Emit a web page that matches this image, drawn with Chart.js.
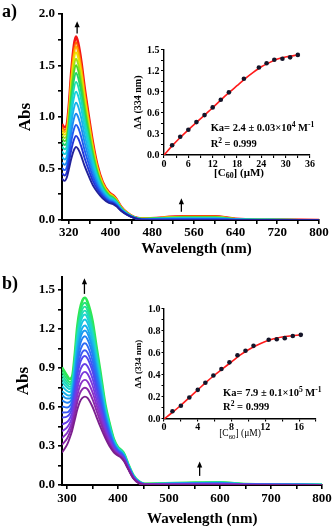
<!DOCTYPE html>
<html>
<head>
<meta charset="utf-8">
<script src="https://cdn.jsdelivr.net/npm/chart.js@4.4.1/dist/chart.umd.min.js"></script>
<style>
  html, body { margin: 0; padding: 0; background: #fff; }
  #wrap { position: relative; width: 333px; height: 532px; overflow: hidden; }
  canvas { position: absolute; }
  .lbl { position: absolute; font: bold 18px/18px 'Liberation Serif', serif; color: #000; }
</style>
</head>
<body>
<div id="wrap">
  <canvas id="mainA" width="333" height="262" style="left:0;top:0"></canvas>
  <canvas id="insetA" width="225" height="155" style="left:100px;top:30px"></canvas>
  <canvas id="mainB" width="333" height="270" style="left:0;top:262px"></canvas>
  <canvas id="insetB" width="225" height="155" style="left:100px;top:290px"></canvas>
  <div class="lbl" style="left:2px;top:2px">a)</div>
  <div class="lbl" style="left:2px;top:274px">b)</div>
</div>
<script>
// ---- panel a: spectra (wavelength nm / absorbance), lowest curve first
const W_A = [307, 312, 316, 320, 325, 330, 334, 338, 344, 350, 358, 366, 375, 385, 397, 405, 412, 420, 432, 445, 460, 540, 600, 640, 700, 800];
const SPECTRA_A = [
  [.40,.38,.41,.49,.60,.68,.71,.69,.62,.53,.43,.34,.27,.21,.165,.155,.13,.09,.05,.02,.003,0,0,0,0,0],
  [.453,.432,.461,.551,.685,.782,.817,.793,.712,.607,.489,.382,.296,.226,.176,.164,.137,.094,.052,.021,.004,.004,.004,.001,0,0],
  [.506,.484,.512,.612,.77,.884,.924,.896,.804,.684,.548,.424,.322,.242,.186,.172,.144,.098,.054,.022,.005,.007,.007,.002,.001,0],
  [.559,.536,.563,.673,.855,.986,1.031,.999,.896,.761,.607,.466,.348,.258,.197,.181,.151,.102,.056,.023,.007,.011,.011,.004,.001,0],
  [.612,.588,.614,.734,.94,1.088,1.138,1.102,.988,.838,.666,.508,.374,.274,.207,.189,.158,.106,.058,.024,.008,.014,.014,.005,.002,0],
  [.665,.64,.665,.795,1.025,1.19,1.245,1.205,1.08,.915,.725,.55,.40,.29,.218,.198,.165,.11,.06,.025,.009,.018,.018,.006,.002,0],
  [.713,.687,.711,.85,1.102,1.282,1.341,1.298,1.163,.984,.778,.588,.423,.304,.227,.205,.171,.114,.062,.026,.01,.021,.021,.007,.002,0],
  [.755,.728,.752,.899,1.17,1.363,1.427,1.38,1.236,1.046,.825,.621,.444,.317,.235,.212,.177,.117,.063,.027,.011,.023,.023,.008,.003,0],
  [.792,.765,.787,.941,1.229,1.435,1.502,1.452,1.301,1.1,.867,.651,.462,.328,.243,.218,.182,.12,.065,.027,.012,.026,.026,.009,.003,0],
  [.824,.796,.818,.978,1.28,1.496,1.566,1.514,1.356,1.146,.902,.676,.478,.338,.249,.223,.186,.122,.066,.028,.013,.028,.028,.01,.003,0],
  [.856,.827,.849,1.015,1.331,1.557,1.63,1.576,1.411,1.192,.937,.701,.494,.348,.255,.228,.19,.124,.067,.029,.013,.03,.03,.01,.003,0],
  [.882,.853,.874,1.045,1.374,1.608,1.684,1.627,1.457,1.231,.967,.722,.507,.356,.261,.232,.194,.126,.068,.029,.014,.032,.032,.011,.004,0],
  [.904,.874,.895,1.07,1.408,1.649,1.727,1.669,1.494,1.262,.991,.739,.517,.362,.265,.236,.197,.128,.069,.03,.014,.033,.033,.011,.004,0],
  [.93,.90,.92,1.10,1.45,1.70,1.78,1.72,1.54,1.30,1.02,.76,.53,.37,.27,.24,.20,.13,.07,.03,.015,.035,.035,.012,.004,0]
];
const COLORS_A = ['#22229a','#2036d8','#1f5cf0','#1c8cf2','#18b2ec','#16cede','#18dcb0','#22d468','#52d828','#a2e014','#ece400','#ffae00','#ff6400','#f41414'];

// ---- panel b
const W_B = [290, 300, 305, 310, 315, 320, 325, 330, 335, 340, 350, 357, 365, 375, 383, 392, 400, 406, 412, 420, 430, 440, 452, 550, 600, 650, 800];
const SPECTRA_B = [
  [.25,.31,.36,.42,.50,.58,.64,.67,.68,.67,.60,.53,.45,.36,.30,.25,.225,.21,.18,.12,.05,.015,.002,0,0,0,0],
  [.309,.358,.401,.457,.545,.638,.704,.738,.748,.737,.659,.58,.489,.383,.316,.259,.231,.215,.185,.124,.052,.016,.003,.002,.002,.001,0],
  [.361,.40,.437,.491,.585,.689,.761,.798,.809,.796,.712,.624,.523,.404,.331,.267,.236,.22,.19,.127,.054,.018,.003,.003,.003,.001,0],
  [.414,.443,.474,.524,.625,.74,.818,.858,.87,.855,.765,.668,.558,.425,.345,.275,.241,.225,.195,.13,.056,.019,.004,.005,.005,.002,.001],
  [.466,.485,.51,.557,.665,.791,.874,.918,.931,.914,.818,.712,.592,.446,.359,.283,.246,.23,.20,.133,.058,.02,.005,.006,.007,.003,.001],
  [.519,.527,.547,.59,.705,.842,.931,.978,.992,.973,.871,.756,.626,.467,.374,.291,.252,.235,.205,.136,.06,.021,.005,.007,.008,.003,.001],
  [.558,.559,.574,.615,.735,.881,.974,1.023,1.037,1.018,.91,.789,.652,.482,.385,.297,.256,.238,.208,.139,.062,.022,.006,.008,.009,.004,.001],
  [.604,.596,.606,.644,.77,.926,1.023,1.075,1.09,1.07,.956,.827,.682,.50,.397,.304,.26,.242,.212,.142,.064,.023,.006,.01,.011,.004,.001],
  [.65,.633,.638,.673,.805,.97,1.073,1.128,1.144,1.121,1.003,.866,.712,.519,.41,.311,.265,.247,.217,.144,.065,.024,.007,.011,.012,.005,.001],
  [.689,.665,.665,.698,.835,1.009,1.116,1.173,1.189,1.166,1.042,.899,.738,.534,.421,.317,.269,.25,.22,.147,.067,.025,.007,.012,.013,.005,.001],
  [.722,.692,.688,.719,.86,1.041,1.151,1.21,1.227,1.203,1.075,.926,.76,.547,.43,.322,.272,.253,.223,.149,.068,.026,.008,.013,.014,.006,.001],
  [.761,.723,.715,.744,.89,1.079,1.194,1.255,1.273,1.247,1.115,.959,.785,.563,.44,.328,.276,.257,.227,.151,.07,.027,.008,.014,.016,.006,.002],
  [.794,.75,.738,.764,.915,1.111,1.229,1.293,1.311,1.284,1.148,.987,.807,.576,.449,.333,.279,.26,.23,.153,.071,.027,.009,.015,.017,.007,.002],
  [.82,.771,.756,.781,.935,1.137,1.258,1.323,1.341,1.314,1.174,1.009,.824,.586,.457,.337,.282,.262,.232,.155,.072,.028,.009,.016,.017,.007,.002],
  [.846,.792,.774,.798,.955,1.162,1.286,1.353,1.372,1.343,1.201,1.031,.841,.597,.464,.341,.284,.265,.235,.156,.073,.029,.009,.016,.018,.007,.002],
  [.872,.814,.792,.814,.975,1.188,1.315,1.383,1.402,1.373,1.227,1.053,.859,.607,.471,.345,.287,.267,.237,.158,.074,.029,.01,.017,.019,.008,.002],
  [.905,.84,.815,.835,1.0,1.22,1.35,1.42,1.44,1.41,1.26,1.08,.88,.62,.48,.35,.29,.27,.24,.16,.075,.03,.01,.018,.02,.008,.002]
];
const COLORS_B = ['#7c1f8e','#8a28aa','#8a30c8','#7a38dc','#6640e8','#4f48f0','#3c58f4','#2c6cf6','#2080f4','#1a98f0','#18b0ec','#18c4e0','#1cd4d0','#20dcb8','#22e098','#26e478','#2ee852'];

// ---- inset titrations: [C60] (uM) vs dA at 334 nm
const C_A = [2, 4, 6, 8, 10, 12, 14, 16, 19.7, 23.4, 25.3, 27.2, 29.2, 31.1, 33];
const DA_A = [0.14, 0.26, 0.36, 0.47, 0.57, 0.68, 0.79, 0.895, 1.09, 1.25, 1.31, 1.36, 1.375, 1.395, 1.43];
const FIT_C_A = [0, 2, 4, 6, 8, 10, 12, 14, 16, 18, 20, 22, 24, 26, 28, 30, 32, 33];
const FIT_DA_A = [0, 0.13, 0.25, 0.36, 0.465, 0.57, 0.675, 0.785, 0.89, 0.99, 1.09, 1.18, 1.26, 1.32, 1.37, 1.40, 1.42, 1.43];

const C_B = [1, 2, 3, 4, 4.9, 5.85, 6.8, 7.75, 8.7, 9.65, 10.6, 12.4, 13.35, 14.3, 15.25, 16.2];
const DA_B = [0.07, 0.12, 0.195, 0.265, 0.33, 0.395, 0.455, 0.515, 0.58, 0.62, 0.665, 0.72, 0.725, 0.735, 0.755, 0.765];
const FIT_C_B = [0, 1, 2, 3, 4, 5, 6, 7, 8, 9, 10, 11, 12, 13, 14, 15, 16, 16.3];
const FIT_DA_B = [0, 0.06, 0.125, 0.195, 0.265, 0.335, 0.40, 0.46, 0.52, 0.58, 0.63, 0.67, 0.705, 0.73, 0.745, 0.755, 0.763, 0.765];

// ---- ticks
const A_X_MAJOR = [320, 400, 480, 560, 640, 720, 800];
const A_X_MINOR = [360, 440, 520, 600, 680, 760];
const A_Y_MAJOR = [0, 0.5, 1.0, 1.5, 2.0];
const A_Y_MINOR = [0.25, 0.75, 1.25, 1.75];
const B_X_MAJOR = [300, 400, 500, 600, 700, 800];
const B_X_MINOR = [350, 450, 550, 650, 750];
const B_Y_MAJOR = [0, 0.3, 0.6, 0.9, 1.2, 1.5];
const B_Y_MINOR = [0.15, 0.45, 0.75, 1.05, 1.35];
const IA_X_MAJOR = [0, 6, 12, 18, 24, 30, 36];
const IA_X_MINOR = [3, 9, 15, 21, 27, 33];
const IA_Y_MAJOR = [0, 0.3, 0.6, 0.9, 1.2, 1.5];
const IA_Y_MINOR = [0.15, 0.45, 0.75, 1.05, 1.35];
const IB_X_MAJOR = [0, 4, 8, 12, 16];
const IB_X_MINOR = [2, 6, 10, 14, 18];
const IB_Y_MAJOR = [0, 0.2, 0.4, 0.6, 0.8, 1.0];
const IB_Y_MINOR = [0.1, 0.3, 0.5, 0.7, 0.9];

// arrows: [wavelength, from abs, to abs]
const ARROWS_A = [[336, 1.81, 1.93], [536, 0.08, 0.21]];
const ARROWS_B = [[334, 1.47, 1.59], [560, 0.07, 0.18]];

const SERIF = "'Liberation Serif', 'Times New Roman', serif";

function drawRich(ctx, parts, x, y, size, weight, align) {
  const fontFor = p => weight + ' ' + (p.sup || p.sub ? size * 0.72 : size) + 'px ' + SERIF;
  let w = 0;
  parts.forEach(p => { ctx.font = fontFor(p); w += ctx.measureText(p.t).width; });
  let cx = align === 'center' ? x - w / 2 : x;
  ctx.textAlign = 'left';
  ctx.textBaseline = 'alphabetic';
  ctx.fillStyle = '#000';
  parts.forEach(p => {
    ctx.font = fontFor(p);
    const dy = p.sup ? -size * 0.4 : p.sub ? size * 0.25 : 0;
    ctx.fillText(p.t, cx, y + dy);
    cx += ctx.measureText(p.t).width;
  });
}

// arrows + rich texts, anchored in data units
const deco = {
  id: 'deco',
  afterDatasetsDraw(chart, args, opts) {
    const {ctx} = chart;
    const xs = chart.scales.x, ys = chart.scales.y;
    ctx.save();
    (opts.arrows || []).forEach(a => {
      const x = xs.getPixelForValue(a[0]);
      const y0 = ys.getPixelForValue(a[1]);
      const y1 = ys.getPixelForValue(a[2]);
      ctx.strokeStyle = '#000';
      ctx.fillStyle = '#000';
      ctx.lineWidth = 1.3;
      ctx.beginPath();
      ctx.moveTo(x, y0);
      ctx.lineTo(x, y1 + 4);
      ctx.stroke();
      ctx.beginPath();
      ctx.moveTo(x, y1);
      ctx.lineTo(x - 2.6, y1 + 6);
      ctx.lineTo(x + 2.6, y1 + 6);
      ctx.closePath();
      ctx.fill();
    });
    (opts.texts || []).forEach(t => {
      drawRich(ctx, t.parts, xs.getPixelForValue(t.x), ys.getPixelForValue(t.y), t.size, t.weight || 'bold', t.align);
    });
    ctx.restore();
  }
};

function makeAxis(o) {
  return {
    type: 'linear',
    min: o.min,
    max: o.max,
    border: {color: '#000', width: o.line},
    grid: {drawOnChartArea: false, drawTicks: true, tickLength: o.tick, color: '#000', lineWidth: o.line * 0.8},
    ticks: {
      autoSkip: false,
      maxRotation: 0,
      padding: o.pad,
      color: '#000',
      font: {family: SERIF, size: o.font, weight: 'bold'},
      callback: v => o.major.includes(v) ? o.fmt(v) : ''
    },
    afterBuildTicks: s => {
      s.ticks = o.major.concat(o.minor).sort((a, b) => a - b).map(v => ({value: v}));
    },
    afterFit: s => {
      if (s.isHorizontal()) s.height = o.size; else s.width = o.size;
      s.paddingLeft = s.paddingRight = s.paddingTop = s.paddingBottom = 0;
    },
    title: o.title
      ? {display: true, text: o.title, color: '#000', font: {family: SERIF, size: o.titleSize, weight: o.titleWeight || 'bold'}, padding: {top: o.titlePad, bottom: 0}}
      : {display: false}
  };
}

const int = v => String(v);
const one = v => v.toFixed(1);

function spectraChart(id, W, rows, colors, pad, xAxis, yAxis, deco_) {
  return new Chart(document.getElementById(id), {
    type: 'line',
    data: {
      datasets: rows.map((row, i) => ({
        data: row.map((v, j) => ({x: W[j], y: v})),
        borderColor: colors[i],
        borderWidth: i === rows.length - 1 ? 2.6 : 1.9,
        pointRadius: 0,
        fill: false,
        cubicInterpolationMode: 'monotone'
      }))
    },
    options: {
      responsive: false,
      animation: false,
      layout: {padding: pad},
      plugins: {legend: {display: false}, tooltip: {enabled: false}, deco: deco_},
      scales: {x: xAxis, y: yAxis}
    },
    plugins: [deco]
  });
}

function insetChart(id, cx, cy, fx, fy, pad, xAxis, yAxis, deco_) {
  return new Chart(document.getElementById(id), {
    type: 'scatter',
    data: {
      datasets: [
        {
          data: cx.map((c, i) => ({x: c, y: cy[i]})),
          pointRadius: 2.3,
          pointBackgroundColor: '#141428',
          pointBorderWidth: 0,
          showLine: false,
          order: 0
        },
        {
          data: fx.map((c, i) => ({x: c, y: fy[i]})),
          borderColor: '#ff1a1a',
          borderWidth: 1.6,
          pointRadius: 0,
          showLine: true,
          cubicInterpolationMode: 'monotone',
          order: 1
        }
      ]
    },
    options: {
      responsive: false,
      animation: false,
      layout: {padding: pad},
      plugins: {legend: {display: false}, tooltip: {enabled: false}, deco: deco_},
      scales: {x: xAxis, y: yAxis}
    },
    plugins: [deco]
  });
}

// panel a
spectraChart('mainA', W_A, SPECTRA_A, COLORS_A,
  {left: 0, top: 14, right: 14, bottom: 0},
  makeAxis({min: 307, max: 800, major: A_X_MAJOR, minor: A_X_MINOR, fmt: int, size: 42, tick: 4, pad: 1, font: 13, line: 2}),
  makeAxis({min: 0, max: 2, major: A_Y_MAJOR, minor: A_Y_MINOR, fmt: one, size: 62, tick: 4, pad: 3, font: 13, line: 2,
            title: 'Abs', titleSize: 17, titlePad: 15.8}),
  {arrows: ARROWS_A, texts: [{parts: [{t: 'Wavelength (nm)'}], x: 565, y: -0.323, size: 15, align: 'center'}]}
);

insetChart('insetA', C_A, DA_A, FIT_C_A, FIT_DA_A,
  {left: 0, top: 20, right: 15, bottom: 0},
  makeAxis({min: 0, max: 36, major: IA_X_MAJOR, minor: IA_X_MINOR, fmt: int, size: 30, tick: 3, pad: 0, font: 10, line: 1.4}),
  makeAxis({min: 0, max: 1.5, major: IA_Y_MAJOR, minor: IA_Y_MINOR, fmt: one, size: 64, tick: 3, pad: 1.5, font: 10, line: 1.4,
            title: 'ΔA (334 nm)', titleSize: 10, titlePad: 32}),
  {texts: [
    {parts: [{t: 'Ka= 2.4 ± 0.03×10'}, {t: '4', sup: true}, {t: ' M'}, {t: '-1', sup: true}], x: 11.5, y: 0.339, size: 10.5},
    {parts: [{t: 'R'}, {t: '2', sup: true}, {t: ' = 0.999'}], x: 11.5, y: 0.11, size: 10.5},
    {parts: [{t: '[C'}, {t: '60', sub: true}, {t: '] (μM)'}], x: 18.5, y: -0.296, size: 11, align: 'center'}
  ]}
);

// panel b
spectraChart('mainB', W_B, SPECTRA_B, COLORS_B,
  {left: 0, top: 15, right: 11, bottom: 0},
  makeAxis({min: 290, max: 800, major: B_X_MAJOR, minor: B_X_MINOR, fmt: int, size: 47, tick: 4, pad: 2, font: 13, line: 2}),
  makeAxis({min: 0, max: 1.6, major: B_Y_MAJOR, minor: B_Y_MINOR, fmt: one, size: 62, tick: 4, pad: 3, font: 13, line: 2,
            title: 'Abs', titleSize: 17, titlePad: 13.8}),
  {arrows: ARROWS_B, texts: [{parts: [{t: 'Wavelength (nm)'}], x: 565, y: -0.295, size: 15, align: 'center'}]}
);

insetChart('insetB', C_B, DA_B, FIT_C_B, FIT_DA_B,
  {left: 0, top: 19, right: 9, bottom: 0},
  makeAxis({min: 0, max: 18, major: IB_X_MAJOR, minor: IB_X_MINOR, fmt: int, size: 26, tick: 2.5, pad: 0, font: 10, line: 1.4}),
  makeAxis({min: 0, max: 1.0, major: IB_Y_MAJOR, minor: IB_Y_MINOR, fmt: one, size: 64, tick: 2.5, pad: 1, font: 10, line: 1.4,
            title: 'ΔA (334 nm)', titleSize: 9, titlePad: 33}),
  {texts: [
    {parts: [{t: 'Ka= 7.9 ± 0.1×10'}, {t: '5', sup: true}, {t: ' M'}, {t: '-1', sup: true}], x: 7.0, y: 0.205, size: 10.5},
    {parts: [{t: 'R'}, {t: '2', sup: true}, {t: ' = 0.999'}], x: 7.0, y: 0.08, size: 10.5},
    {parts: [{t: '[C'}, {t: '60', sub: true}, {t: '] (μM)'}], x: 9, y: -0.159, size: 9.5, weight: 'normal', align: 'center'}
  ]}
);
</script>
</body>
</html>
